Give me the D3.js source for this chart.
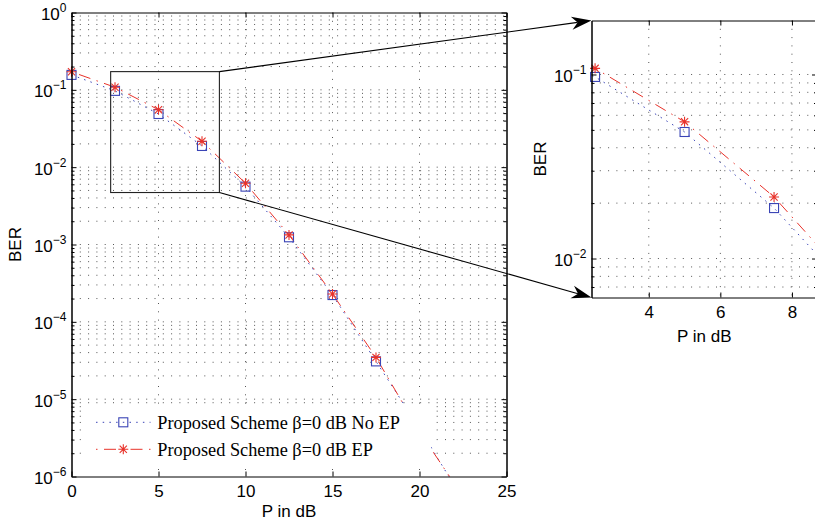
<!DOCTYPE html>
<html>
<head>
<meta charset="utf-8">
<script src="https://cdn.jsdelivr.net/npm/d3@7"></script>
<style>
  body { margin: 0; background: #fff; }
  svg { display: block; }
</style>
</head>
<body>
<svg id="chart" width="815" height="524"></svg>
<script>
// ---- data ----
// Transmit power (dB) at which the BER was evaluated
const powerDb = [0, 2.5, 5, 7.5, 10, 12.5, 15, 17.5, 20, 22.5];
// BER of the proposed scheme (beta = 0 dB) without and with EP
const berNoEp = [0.156, 0.097, 0.0487, 0.0188, 0.0056, 0.00124, 2.22e-4, 3.08e-5, 4.2e-6, 5.0e-7];
const berEp   = [0.171, 0.108, 0.0553, 0.0216, 0.0062, 0.00133, 2.29e-4, 3.47e-5, 3.8e-6, 5.5e-7];

const seriesNames = ["Proposed Scheme \u03B2=0 dB No EP", "Proposed Scheme \u03B2=0 dB EP"];

// axis ranges and ticks of the full view
const powerRange = [0, 25];
const berRange = [1, 1e-6];
const powerTicks = [0, 5, 10, 15, 20, 25];
const berTickExps = [0, -1, -2, -3, -4, -5, -6];

// magnified region (rectangle in the full view) and the range of the magnified panel
const zoomPower = [2.25, 8.5];
const zoomBer = [0.172, 0.0047];
const insetPowerRange = [2.4, 8.7];
const insetBerRange = [0.1965, 0.00614];
const insetPowerTicks = [4, 6, 8];
const insetBerTickExps = [-1, -2];

const xLabel = "P in dB";
const yLabel = "BER";

// ---- styling ----
const BLUE = "#3a44b6";
const RED = "#e8322a";
const SANS = "'Liberation Sans', Arial, Helvetica, sans-serif";
const SERIF = "'Liberation Serif', 'Times New Roman', Times, serif";

const svg = d3.select("#chart");
svg.append("rect").attr("width", 815).attr("height", 524).attr("fill", "#fff");

const mainBox = { left: 71.5, top: 12.5, right: 506.5, bottom: 476.5 };
const insetBox = { left: 591.5, top: 20.5, right: 817, bottom: 297.5 };

const xMain = d3.scaleLinear().domain(powerRange).range([mainBox.left, mainBox.right]);
const yMain = d3.scaleLog().domain(berRange).range([mainBox.top, mainBox.bottom]);
const xInset = d3.scaleLinear().domain(insetPowerRange).range([insetBox.left, insetBox.right]);
const yInset = d3.scaleLog().domain(insetBerRange).range([insetBox.top, insetBox.bottom]);

const seriesData = [
  { name: seriesNames[0], values: powerDb.map((p, i) => ({ p, b: berNoEp[i] })), color: BLUE, dash: "1.5,5.2", marker: "square" },
  { name: seriesNames[1], values: powerDb.map((p, i) => ({ p, b: berEp[i] })), color: RED, dash: "1.5,6.5,12,6.5", marker: "star" }
];

const starPath = "M-5,0H5M0,-5V5M-3.6,-3.6L3.6,3.6M-3.6,3.6L3.6,-3.6";

function drawMarker(g, type, color) {
  if (type === "square") {
    g.append("rect").attr("x", -4.5).attr("y", -4.5).attr("width", 9).attr("height", 9)
      .attr("fill", "none").attr("stroke", color).attr("stroke-width", 1.1);
  } else {
    g.append("path").attr("d", starPath).attr("fill", "none")
      .attr("stroke", color).attr("stroke-width", 1.1);
  }
}

function supLabel(sel, exp, x) {
  const t = sel.append("text")
    .attr("x", x).attr("dy", "0.42em")
    .attr("text-anchor", "end")
    .attr("fill", "#000")
    .style("font-family", SANS).style("font-size", "17px");
  t.append("tspan").text("10");
  t.append("tspan").attr("dy", -8).style("font-size", "12px")
    .text(exp === 0 ? "0" : "\u2212" + Math.abs(exp));
}

function drawPanel(id, box, x, y, xTicks, yExps) {
  const g = svg.append("g");
  const clipId = "clip-" + id;
  svg.append("clipPath").attr("id", clipId).append("rect")
    .attr("x", box.left).attr("y", box.top)
    .attr("width", box.right - box.left).attr("height", box.bottom - box.top);

  // white plot area
  g.append("rect").attr("x", box.left).attr("y", box.top)
    .attr("width", box.right - box.left).attr("height", box.bottom - box.top)
    .attr("fill", "#fff");

  // dotted grid
  const grid = g.append("g").attr("stroke", "#555").attr("stroke-width", 1)
    .attr("stroke-dasharray", "1,7.3").attr("clip-path", `url(#${clipId})`);
  const xd = x.domain(), yd = y.domain();
  grid.selectAll("line.v").data(xTicks.filter(v => v > Math.min(...xd) && v < Math.max(...xd)))
    .join("line").attr("class", "v")
    .attr("x1", d => x(d)).attr("x2", d => x(d))
    .attr("y1", box.top).attr("y2", box.bottom);
  const hVals = y.ticks().filter(v => v > Math.min(...yd) * 1.0001 && v < Math.max(...yd) * 0.9999);
  grid.selectAll("line.h").data(hVals)
    .join("line").attr("class", "h")
    .attr("x1", box.left).attr("x2", box.right)
    .attr("y1", d => y(d)).attr("y2", d => y(d));

  // curves
  const line = d3.line().x(d => x(d.p)).y(d => y(d.b));
  const curves = g.append("g").attr("clip-path", `url(#${clipId})`);
  seriesData.forEach(s => {
    curves.append("path").datum(s.values).attr("d", line)
      .attr("fill", "none").attr("stroke", s.color).attr("stroke-width", 1)
      .attr("stroke-dasharray", s.dash);
  });
  // markers (drawn unclipped, only for points inside the view)
  const inside = d => d.p >= Math.min(...xd) && d.p <= Math.max(...xd) &&
                      d.b >= Math.min(...yd) && d.b <= Math.max(...yd);
  seriesData.forEach(s => {
    s.values.filter(inside).forEach(d => {
      const m = g.append("g").attr("transform", `translate(${x(d.p)},${y(d.b)})`);
      drawMarker(m, s.marker, s.color);
    });
  });

  // axes with inward ticks on all four sides
  const axes = g.append("g").attr("color", "#000");
  const bottom = axes.append("g").attr("transform", `translate(0,${box.bottom})`)
    .call(d3.axisBottom(x).tickValues(xTicks).tickSize(-5).tickSizeOuter(0).tickPadding(8).tickFormat(d3.format("d")));
  bottom.selectAll("text").style("font-family", SANS).style("font-size", "17px").attr("fill", "#000");
  axes.append("g").attr("transform", `translate(0,${box.top})`)
    .call(d3.axisTop(x).tickValues(xTicks).tickSize(-5).tickSizeOuter(0).tickFormat(""));

  const majors = yExps.map(e => Math.pow(10, e));
  const minors = hVals.filter(v => !majors.some(m => Math.abs(m - v) / m < 1e-6));
  const left = axes.append("g").attr("transform", `translate(${box.left},0)`)
    .call(d3.axisLeft(y).tickValues(majors).tickSize(-5).tickSizeOuter(0).tickFormat(""));
  axes.append("g").attr("transform", `translate(${box.left},0)`)
    .call(d3.axisLeft(y).tickValues(minors).tickSize(-3).tickSizeOuter(0).tickFormat(""));
  axes.append("g").attr("transform", `translate(${box.right},0)`)
    .call(d3.axisRight(y).tickValues(majors).tickSize(-5).tickSizeOuter(0).tickFormat(""));
  axes.append("g").attr("transform", `translate(${box.right},0)`)
    .call(d3.axisRight(y).tickValues(minors).tickSize(-3).tickSizeOuter(0).tickFormat(""));
  left.selectAll("g.tick").each(function (d) {
    supLabel(d3.select(this), Math.round(Math.log10(d)), -5);
  });
  axes.selectAll("path.domain").attr("stroke", "#000").attr("stroke-width", 1);
  axes.selectAll("line").attr("stroke", "#000");
  return g;
}

// ---- full view ----
drawPanel("main", mainBox, xMain, yMain, powerTicks, berTickExps);

svg.append("text").attr("x", (mainBox.left + mainBox.right) / 2).attr("y", 516.5)
  .attr("text-anchor", "middle").style("font-family", SANS).style("font-size", "17px")
  .text(xLabel);
svg.append("text").attr("transform", `translate(15,${(mainBox.top + mainBox.bottom) / 2}) rotate(-90)`)
  .attr("text-anchor", "middle").attr("dominant-baseline", "central")
  .style("font-family", SANS).style("font-size", "17px").text(yLabel);

// legend (opaque, no frame)
const legend = svg.append("g");
legend.append("rect").attr("x", 86).attr("y", 404).attr("width", 345).attr("height", 63).attr("fill", "#fff");
seriesData.forEach((s, i) => {
  const yy = 422.3 + i * 27;
  legend.append("line").attr("x1", 96).attr("x2", 150.5).attr("y1", yy).attr("y2", yy)
    .attr("stroke", s.color).attr("stroke-width", 1).attr("stroke-dasharray", s.dash);
  const m = legend.append("g").attr("transform", `translate(123.3,${yy})`);
  drawMarker(m, s.marker, s.color);
  legend.append("text").attr("x", 157.3).attr("y", yy + 6.8)
    .style("font-family", SERIF).style("font-size", "18.3px").attr("fill", "#000")
    .text(s.name);
});

// ---- magnified panel ----
drawPanel("inset", insetBox, xInset, yInset, insetPowerTicks, insetBerTickExps);

svg.append("text").attr("x", (insetBox.left + insetBox.right) / 2).attr("y", 341.5)
  .attr("text-anchor", "middle").style("font-family", SANS).style("font-size", "17px")
  .text(xLabel);
svg.append("text").attr("transform", `translate(540,${(insetBox.top + insetBox.bottom) / 2}) rotate(-90)`)
  .attr("text-anchor", "middle").attr("dominant-baseline", "central")
  .style("font-family", SANS).style("font-size", "17px").text(yLabel);

// ---- zoom rectangle and connector arrows ----
const zx0 = xMain(zoomPower[0]), zx1 = xMain(zoomPower[1]);
const zy0 = yMain(zoomBer[0]), zy1 = yMain(zoomBer[1]);
svg.append("rect").attr("x", zx0).attr("y", zy0).attr("width", zx1 - zx0).attr("height", zy1 - zy0)
  .attr("fill", "none").attr("stroke", "#222").attr("stroke-width", 1.1);

const arrowHead = "M0,0L-20,-6.5L-14,0L-20,6.5Z";
[[zx1, zy0, xInset.range()[0], yInset.range()[0]],
 [zx1, zy1, xInset.range()[0], yInset.range()[1]]].forEach(([x1, y1, x2, y2]) => {
  const ang = Math.atan2(y2 - y1, x2 - x1);
  const len = Math.hypot(x2 - x1, y2 - y1);
  const g = svg.append("g").attr("transform", `translate(${x1},${y1}) rotate(${ang * 180 / Math.PI})`);
  g.append("line").attr("x1", 0).attr("y1", 0).attr("x2", len - 14).attr("y2", 0)
    .attr("stroke", "#000").attr("stroke-width", 1.1);
  g.append("path").attr("d", arrowHead).attr("transform", `translate(${len},0)`).attr("fill", "#000");
});
</script>
</body>
</html>
